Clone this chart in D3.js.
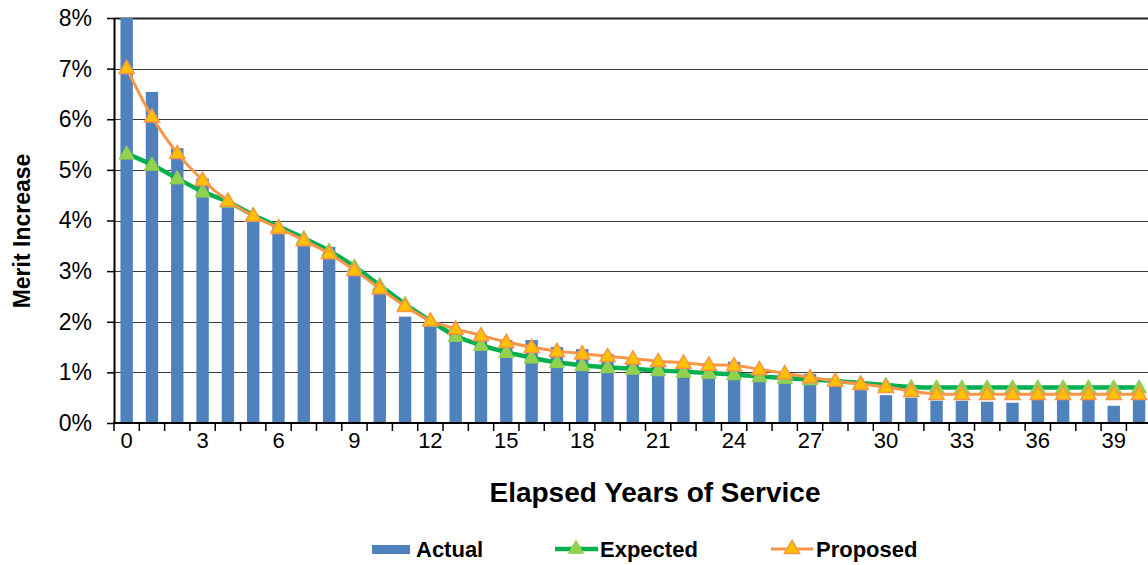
<!DOCTYPE html>
<html>
<head>
<meta charset="utf-8">
<script src="https://cdn.jsdelivr.net/npm/d3@7"></script>
<style>
  html, body { margin: 0; padding: 0; background: #fff; }
  svg { display: block; font-family: Arial, "Liberation Sans", sans-serif; }
</style>
</head>
<body>
<svg id="chart" width="1148" height="565"></svg>
<script>
// ---- data ----
const years = d3.range(0, 41);
const actual = [8.00, 6.54, 5.43, 4.83, 4.27, 4.00, 3.88, 3.56, 3.48, 2.92,
                2.62, 2.10, 1.95, 1.77, 1.72, 1.64, 1.64, 1.50, 1.46, 1.36,
                1.17, 1.13, 1.12, 1.10, 1.21, 0.98, 0.98, 0.97, 0.84, 0.65,
                0.55, 0.50, 0.44, 0.44, 0.42, 0.40, 0.46, 0.46, 0.51, 0.34, 0.46];
const expected = [5.32, 5.10, 4.83, 4.57, 4.37, 4.11, 3.88, 3.65, 3.40, 3.09,
                  2.72, 2.35, 2.02, 1.72, 1.54, 1.40, 1.29, 1.20, 1.14, 1.10,
                  1.07, 1.04, 1.01, 0.99, 0.96, 0.92, 0.89, 0.86, 0.83, 0.79,
                  0.75, 0.71, 0.70, 0.70, 0.70, 0.70, 0.70, 0.70, 0.70, 0.70, 0.70];
const proposed = [7.01, 6.05, 5.33, 4.80, 4.39, 4.09, 3.85, 3.61, 3.35, 3.02,
                  2.66, 2.31, 2.02, 1.86, 1.73, 1.60, 1.50, 1.42, 1.37, 1.32,
                  1.27, 1.22, 1.19, 1.15, 1.14, 1.06, 0.98, 0.90, 0.83, 0.77,
                  0.71, 0.63, 0.57, 0.57, 0.57, 0.57, 0.57, 0.57, 0.57, 0.57, 0.57];
const yTicks = [0, 1, 2, 3, 4, 5, 6, 7, 8];
const xTickLabels = [0, 3, 6, 9, 12, 15, 18, 21, 24, 27, 30, 33, 36, 39];
const seriesNames = ["Actual", "Expected", "Proposed"];

(function () {
// ---- layout ----
const svg = d3.select("#chart");
const W = 1148;
const pLeft = 114, pTop = 18, pBottom = 423;
const step = 25.31;
const pRight = pLeft + years.length * step;

const x = d3.scaleBand().domain(years).range([pLeft, pRight])
  .paddingInner(0.51).paddingOuter(0.255);
const xEdge = d3.scaleLinear().domain([0, years.length]).range([pLeft, pRight]);
const y = d3.scaleLinear().domain([0, 8]).range([pBottom, pTop]);

const C = {
  bar: "#4F81BD",
  green: "#00B050", greenMark: "#92D050",
  orange: "#F79646", orangeMark: "#FFC000"
};

svg.append("defs").append("clipPath").attr("id", "plotclip")
  .append("rect").attr("x", pLeft).attr("y", pTop - 1).attr("width", W - pLeft).attr("height", pBottom - pTop + 2);

// gridlines
svg.append("g").selectAll("line").data(yTicks.filter(d => d > 0)).join("line")
  .attr("x1", pLeft).attr("x2", W)
  .attr("y1", d => Math.round(y(d)) + 0.5).attr("y2", d => Math.round(y(d)) + 0.5)
  .attr("stroke", d => d === 8 ? "#222" : "#3a3a3a")
  .attr("stroke-width", d => d === 8 ? 2 : 1.1);

const plot = svg.append("g").attr("clip-path", "url(#plotclip)");

// bars
plot.append("g").selectAll("rect").data(years).join("rect")
  .attr("x", d => x(d)).attr("width", x.bandwidth())
  .attr("y", d => y(actual[d])).attr("height", d => y(0) - y(actual[d]))
  .attr("fill", C.bar);

const line = arr => d3.line()
  .x(d => x(d) + x.bandwidth() / 2)
  .y(d => y(arr[d]))
  .curve(d3.curveCatmullRom.alpha(0.5))(years);

const tri = d3.symbol().type(d3.symbolTriangle).size(100);

// expected
plot.append("path").attr("d", line(expected)).attr("fill", "none")
  .attr("stroke", C.green).attr("stroke-width", 4.5).attr("stroke-linejoin", "round");
plot.append("g").selectAll("path").data(years).join("path")
  .attr("d", tri())
  .attr("transform", d => `translate(${x(d) + x.bandwidth() / 2},${y(expected[d]) + 1})`)
  .attr("fill", C.greenMark).attr("stroke", C.greenMark).attr("stroke-width", 1);

// proposed
plot.append("path").attr("d", line(proposed)).attr("fill", "none")
  .attr("stroke", C.orange).attr("stroke-width", 3).attr("stroke-linejoin", "round");
plot.append("g").selectAll("path").data(years).join("path")
  .attr("d", tri())
  .attr("transform", d => `translate(${x(d) + x.bandwidth() / 2},${y(proposed[d]) + 1})`)
  .attr("fill", C.orangeMark).attr("stroke", C.orange).attr("stroke-width", 1.5);

// y axis
const yAxis = d3.axisLeft(y).tickValues(yTicks).tickFormat(d => d + "%")
  .tickSize(7).tickSizeOuter(0).tickPadding(15);
const gy = svg.append("g").attr("transform", `translate(${pLeft},0)`).call(yAxis);
gy.select(".domain").attr("stroke", "#000").attr("stroke-width", 2);
gy.selectAll(".tick line").attr("stroke", "#000").attr("stroke-width", 1.5);
gy.selectAll(".tick text").attr("font-size", 23).attr("fill", "#000")
  .attr("font-family", "Arial, 'Liberation Sans', sans-serif");

// x axis
svg.append("line").attr("x1", pLeft - 1).attr("x2", W).attr("y1", pBottom).attr("y2", pBottom)
  .attr("stroke", "#000").attr("stroke-width", 2);
svg.append("g").selectAll("line").data(d3.range(0, years.length + 1)).join("line")
  .attr("x1", d => xEdge(d)).attr("x2", d => xEdge(d))
  .attr("y1", pBottom).attr("y2", pBottom + 8)
  .attr("stroke", "#000").attr("stroke-width", 1.5);
svg.append("g").selectAll("text").data(xTickLabels).join("text")
  .attr("x", d => x(d) + x.bandwidth() / 2).attr("y", 448)
  .attr("text-anchor", "middle").attr("font-size", 22).attr("fill", "#000")
  .text(d => d);

// titles
svg.append("text").attr("x", 655).attr("y", 502).attr("text-anchor", "middle")
  .attr("font-size", 28).attr("font-weight", "bold").text("Elapsed Years of Service");
svg.append("text").attr("transform", "translate(30,231) rotate(-90)")
  .attr("text-anchor", "middle").attr("font-size", 23).attr("font-weight", "bold")
  .text("Merit Increase");

// legend
const ly = 549;
const lg = svg.append("g");
lg.append("rect").attr("x", 372).attr("y", ly - 4).attr("width", 38).attr("height", 9).attr("fill", C.bar);
lg.append("text").attr("x", 416).attr("y", ly + 8).attr("font-size", 22).attr("font-weight", "bold").text(seriesNames[0]);

lg.append("line").attr("x1", 555).attr("x2", 598).attr("y1", ly).attr("y2", ly)
  .attr("stroke", C.green).attr("stroke-width", 4.5);
lg.append("path").attr("d", tri()).attr("transform", `translate(576,${ly})`)
  .attr("fill", C.greenMark).attr("stroke", C.greenMark);
lg.append("text").attr("x", 600).attr("y", ly + 8).attr("font-size", 22).attr("font-weight", "bold").text(seriesNames[1]);

lg.append("line").attr("x1", 771).attr("x2", 813).attr("y1", ly).attr("y2", ly)
  .attr("stroke", C.orange).attr("stroke-width", 3);
lg.append("path").attr("d", tri()).attr("transform", `translate(792,${ly})`)
  .attr("fill", C.orangeMark).attr("stroke", C.orange).attr("stroke-width", 1.5);
lg.append("text").attr("x", 816).attr("y", ly + 8).attr("font-size", 22).attr("font-weight", "bold").text(seriesNames[2]);
})();
</script>
</body>
</html>
